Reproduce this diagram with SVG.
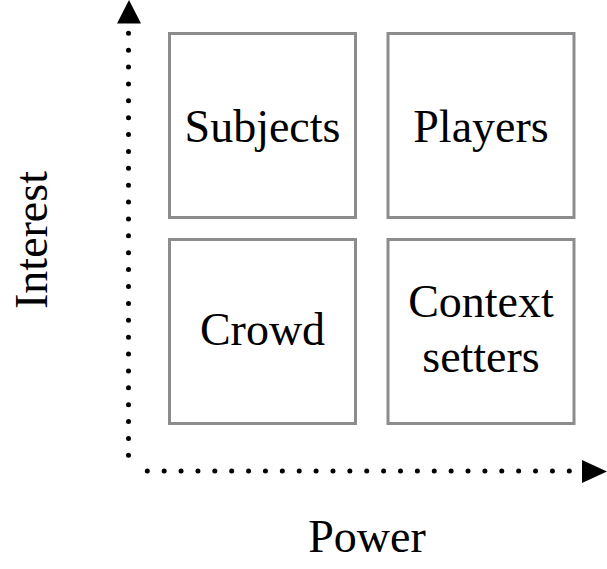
<svg xmlns="http://www.w3.org/2000/svg" width="607" height="569" viewBox="0 0 607 569">
<style>
.box{fill:#fff;stroke:#8c8c8e;stroke-width:3}
.lbl{font-family:"Liberation Serif","Times New Roman",serif;font-size:46px;fill:#000;text-anchor:middle}
.axis{fill:none;stroke:#000;stroke-width:5;stroke-linecap:round;stroke-dasharray:0 16.88}
.head{fill:#000}
</style>
<rect width="607" height="569" fill="#fff"/>
<g id="connectors">
<line class="axis" x1="128.5" y1="33.3" x2="128.5" y2="455.6"/>
<polygon class="head" points="129,0 117,23.5 141,23.5"/>
<line class="axis" x1="147.3" y1="471" x2="569.4" y2="471"/>
<polygon class="head" points="582,460 607,471.5 582,483"/>
</g>
<g id="subjects">
<rect class="box" x="169.5" y="33.5" width="186" height="184"/>
<text class="lbl" x="262.5" y="142">Subjects</text>
</g>
<g id="players">
<rect class="box" x="388" y="33.5" width="186" height="184"/>
<text class="lbl" x="481" y="142">Players</text>
</g>
<g id="crowd">
<rect class="box" x="169.5" y="239.5" width="186" height="184"/>
<text class="lbl" x="262.5" y="345">Crowd</text>
</g>
<g id="context-setters">
<rect class="box" x="388" y="239.5" width="186" height="184"/>
<text class="lbl" x="481" y="317">Context</text>
<text class="lbl" x="481" y="372">setters</text>
</g>
<g id="axis-labels">
<text class="lbl" transform="translate(47,240) rotate(-90)">Interest</text>
<text class="lbl" x="367" y="552">Power</text>
</g>
</svg>
